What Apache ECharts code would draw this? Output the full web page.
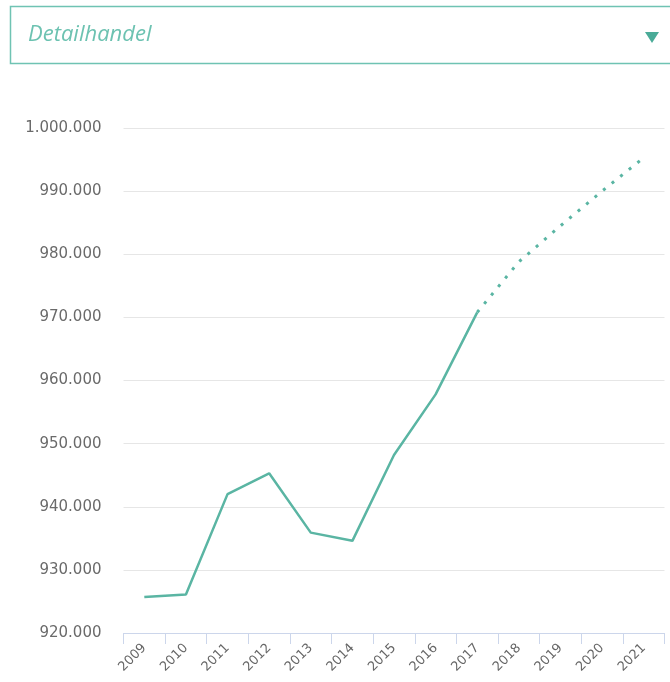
<!DOCTYPE html>
<html>
<head>
<meta charset="utf-8">
<script src="https://cdn.jsdelivr.net/npm/echarts@6/dist/echarts.min.js"></script>
<style>
html,body{margin:0;padding:0;background:#fff;}
#chart{width:670px;height:682px;}
</style>
</head>
<body>
<div id="chart"></div>
<script>
const years = ['2009','2010','2011','2012','2013','2014','2015','2016','2017','2018','2019','2020','2021'];
const actualValues = [925700, 926100, 942000, 945300, 935900, 934600, 948200, 957800, 970800, null, null, null, null];
const forecastValues = [null, null, null, null, null, null, null, null, 970800, 978800, 984500, 990000, 995300];
const yTicks = { min: 920000, max: 1000000, step: 10000 };
const titleText = 'Detailhandel';

const teal = '#5ab5a3';
function fmt(v){ return String(v).replace(/\B(?=(\d{3})+(?!\d))/g, '.'); }

const chart = echarts.init(document.getElementById('chart'), null, {renderer:'canvas'});
chart.setOption({
  animation: false,
  backgroundColor: '#ffffff',
  grid: { left: 123.5, right: 5.5, top: 128, bottom: 49, containLabel: false },
  xAxis: {
    type: 'category',
    data: years,
    boundaryGap: true,
    axisLine: { show: true, lineStyle: { color: '#ccd6eb', width: 1 } },
    axisTick: { show: true, length: 11, alignWithLabel: false, lineStyle: { color: '#ccd6eb' } },
    axisLabel: { rotate: 45, margin: 13, color: '#666666', fontSize: 13, fontFamily: 'DejaVu Sans', interval: 0 },
    splitLine: { show: false }
  },
  yAxis: {
    type: 'value',
    min: yTicks.min, max: yTicks.max, interval: yTicks.step,
    axisLine: { show: false },
    axisTick: { show: false },
    axisLabel: { margin: 22, color: '#6a6a6a', fontSize: 15, fontFamily: 'DejaVu Sans', formatter: fmt },
    splitLine: { show: true, lineStyle: { color: '#e6e6e6', width: 1 } }
  },
  series: [
    {
      type: 'line', data: actualValues, symbol: 'none', connectNulls: false,
      lineStyle: { color: teal, width: 2.5 }, z: 3
    },
    {
      type: 'line', data: forecastValues, symbol: 'none', connectNulls: false,
      lineStyle: { color: teal, width: 3, type: [3, 8], cap: 'butt' }, z: 2
    }
  ],
  graphic: [
    { type: 'rect', shape: { x: 10.5, y: 6.5, width: 700, height: 57 },
      style: { fill: '#ffffff', stroke: '#6fc3b3', lineWidth: 1.5 } },
    { type: 'text', x: 28, y: 35,
      style: { text: titleText, fill: '#6cc2b1', font: 'italic 22px "Open Sans"', verticalAlign: 'middle', align: 'left' } },
    { type: 'polygon', shape: { points: [[645,32],[659,32],[652,43]] },
      style: { fill: '#4aab98' } }
  ]
});
</script>
</body>
</html>
